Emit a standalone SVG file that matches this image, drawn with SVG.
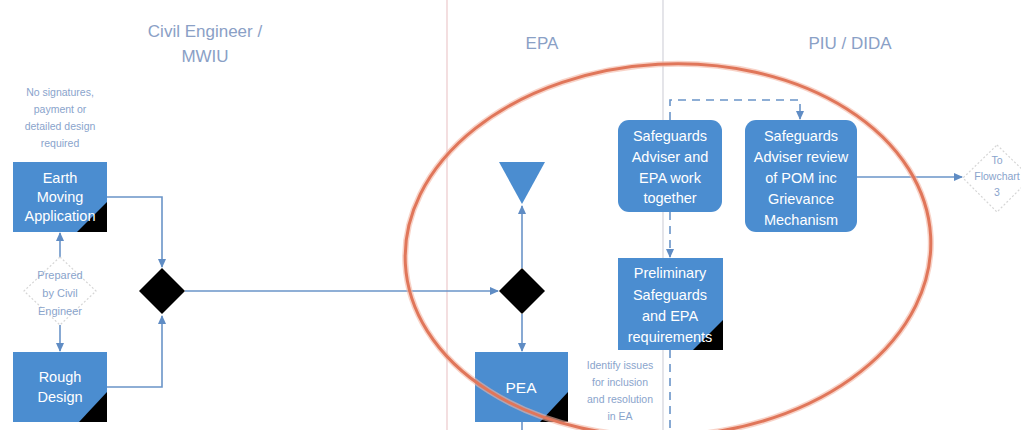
<svg xmlns="http://www.w3.org/2000/svg" width="1021" height="430" viewBox="0 0 1021 430">
<defs>
<marker id="arr" markerWidth="9" markerHeight="8" refX="8" refY="4" orient="auto" markerUnits="userSpaceOnUse">
<path d="M0,0 L9,4 L0,8 Z" fill="#5f8cc4"/>
</marker>
<style>
.lane{font-family:"Liberation Sans",Arial,sans-serif;font-size:17px;fill:#8aa0c6;text-anchor:middle}
.note{font-family:"Liberation Sans",Arial,sans-serif;font-size:10.5px;fill:#8aa4cc;text-anchor:middle}
.lbl{font-family:"Liberation Sans",Arial,sans-serif;font-size:14.5px;fill:#ffffff;text-anchor:middle}
.box{fill:#4b8dd0}
.corner{fill:#000000}
.dia{fill:#ffffff;stroke:#d6d6d6;stroke-width:1.2;stroke-dasharray:2 2}
.con{fill:none;stroke:#6a94c8;stroke-width:1.6}
.dash{fill:none;stroke:#6a94c8;stroke-width:1.6;stroke-dasharray:8 6}
</style>
</defs>
<rect width="1021" height="430" fill="#ffffff"/>
<g id="lanes">
<line x1="447" y1="0" x2="447" y2="430" stroke="#ecc9cc" stroke-width="1.2"/>
<line x1="663" y1="0" x2="663" y2="430" stroke="#d3d3da" stroke-width="1.2"/>
<text class="lane" x="205" y="37">Civil Engineer /</text>
<text class="lane" x="205" y="62">MWIU</text>
<text class="lane" x="542" y="49">EPA</text>
<text class="lane" x="850" y="49">PIU / DIDA</text>
</g>
<g id="note">
<text class="note" x="60" y="96">No signatures,</text>
<text class="note" x="60" y="113">payment or</text>
<text class="note" x="60" y="130">detailed design</text>
<text class="note" x="60" y="147">required</text>
</g>
<g id="connectors">
<path class="con" d="M60,257 L60,233" marker-end="url(#arr)"/>
<path class="con" d="M60,325 L60,351" marker-end="url(#arr)"/>
<path class="con" d="M107,197 L162,197 L162,267" marker-end="url(#arr)"/>
<path class="con" d="M107,387 L162,387 L162,316" marker-end="url(#arr)"/>
<path class="con" d="M185,291 L498,291" marker-end="url(#arr)"/>
<path class="con" d="M522,268 L522,206" marker-end="url(#arr)"/>
<path class="con" d="M522,314 L522,351" marker-end="url(#arr)"/>
<path class="con" d="M522,422 L522,430"/>
<path class="dash" d="M670,120 L670,100 L800,100 L800,119" marker-end="url(#arr)"/>
<path class="dash" d="M670,212 L670,257" marker-end="url(#arr)"/>
<path class="dash" d="M670,350 L670,430"/>
<path class="con" d="M857,177 L962,177" marker-end="url(#arr)"/>
</g>
<g id="earth-moving">
<rect class="box" x="13" y="162" width="94" height="70"/>
<path class="corner" d="M107,202 L107,232 L77,232 Z"/>
<text class="lbl" x="60" y="183">Earth</text>
<text class="lbl" x="60" y="202">Moving</text>
<text class="lbl" x="60" y="221">Application</text>
</g>
<g id="prepared">
<path class="dia" d="M60,257 L96,291 L60,325 L24,291 Z"/>
<text class="note" x="60" y="279" style="font-size:11px">Prepared</text>
<text class="note" x="60" y="297" style="font-size:11px">by Civil</text>
<text class="note" x="60" y="315" style="font-size:11px">Engineer</text>
</g>
<g id="rough-design">
<rect class="box" x="13" y="352" width="94" height="70"/>
<path class="corner" d="M107,392 L107,422 L79,422 Z"/>
<text class="lbl" x="60" y="382">Rough</text>
<text class="lbl" x="60" y="402">Design</text>
</g>
<g id="merge1">
<path d="M162,268 L185,291 L162,314 L139,291 Z" fill="#000"/>
</g>
<g id="merge2">
<path d="M522,268 L545,291 L522,314 L499,291 Z" fill="#000"/>
</g>
<g id="end-triangle">
<path d="M499,162 L545,162 L522,204 Z" fill="#4b8dd0"/>
</g>
<g id="pea">
<rect class="box" x="475" y="352" width="93" height="70"/>
<path class="corner" d="M568,392 L568,422 L540,422 Z"/>
<text class="lbl" x="521" y="393" style="font-size:15.5px">PEA</text>
</g>
<g id="identify-note">
<text class="note" x="620" y="369">Identify issues</text>
<text class="note" x="620" y="386">for inclusion</text>
<text class="note" x="620" y="403">and resolution</text>
<text class="note" x="620" y="420">in EA</text>
</g>
<g id="adviser-epa">
<rect class="box" x="618" y="120" width="104" height="92" rx="11"/>
<text class="lbl" x="670" y="141">Safeguards</text>
<text class="lbl" x="670" y="162">Adviser and</text>
<text class="lbl" x="670" y="183">EPA work</text>
<text class="lbl" x="670" y="203">together</text>
</g>
<g id="preliminary">
<rect class="box" x="618" y="258" width="105" height="92"/>
<path class="corner" d="M723,320 L723,350 L693,350 Z"/>
<text class="lbl" x="670" y="278">Preliminary</text>
<text class="lbl" x="670" y="300">Safeguards</text>
<text class="lbl" x="670" y="321">and EPA</text>
<text class="lbl" x="670" y="342">requirements</text>
</g>
<g id="adviser-review">
<rect class="box" x="745" y="120" width="112" height="112" rx="11"/>
<text class="lbl" x="801" y="141">Safeguards</text>
<text class="lbl" x="801" y="162">Adviser review</text>
<text class="lbl" x="801" y="183">of POM inc</text>
<text class="lbl" x="801" y="204">Grievance</text>
<text class="lbl" x="801" y="225">Mechanism</text>
</g>
<g id="to-flowchart">
<path class="dia" d="M997,145 L1031,178 L997,212 L963,178 Z"/>
<text class="note" x="997" y="164" style="font-size:10.5px">To</text>
<text class="note" x="997" y="180" style="font-size:10.5px">Flowchart</text>
<text class="note" x="997" y="196" style="font-size:10.5px">3</text>
</g>
<g id="highlight">
<ellipse cx="668" cy="250" rx="263" ry="186" transform="rotate(-3 668 250)" fill="none" stroke="#f3b5a3" stroke-width="6" opacity="0.6"/>
<ellipse cx="668" cy="250" rx="263" ry="186" transform="rotate(-3 668 250)" fill="none" stroke="#e0765a" stroke-width="3"/>
</g>
</svg>
